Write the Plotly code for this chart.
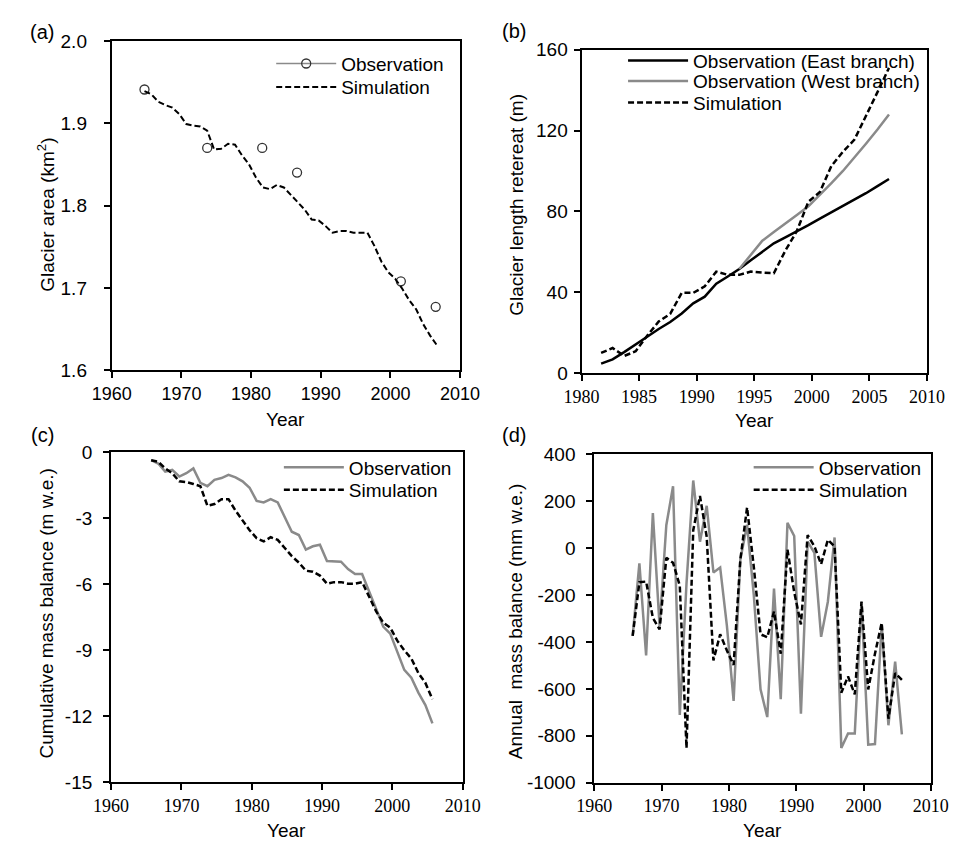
import plotly.graph_objects as go

# ---------------- data ----------------
# (a) glacier area
obs_a_year = [1964.7, 1973.7, 1981.6, 1986.6, 2001.5, 2006.5]
obs_a_area = [1.941, 1.870, 1.870, 1.840, 1.708, 1.677]
sim_a_area = [1.939, 1.935, 1.926, 1.922, 1.919, 1.911, 1.899, 1.897, 1.896, 1.891,
              1.868, 1.869, 1.875, 1.874, 1.861, 1.850, 1.834, 1.822, 1.820, 1.825,
              1.822, 1.813, 1.803, 1.795, 1.783, 1.782, 1.775, 1.767, 1.769, 1.769,
              1.767, 1.767, 1.767, 1.751, 1.732, 1.719, 1.711, 1.699, 1.685, 1.674,
              1.656, 1.642, 1.630]
sim_a_year = [1964.7 + i for i in range(len(sim_a_area))]

# (b) glacier length retreat
b_year = [1981.7 + i for i in range(26)]
obs_b_east = [4.7, 6.8, 10.4, 14.0, 18.0, 21.8, 25.3, 29.5, 34.5, 37.8,
              44.2, 47.8, 51.5, 55.8, 60.2, 64.2, 67.2, 70.1, 73.2, 76.4,
              79.5, 82.6, 85.5, 89.0, 92.5, 96.0]
obs_b_west_year = [1993.7 + i for i in range(14)]
obs_b_west = [51.5, 58.5, 65.5, 69.8, 73.8, 78.2, 82.5, 88.0, 94.0, 100.0,
              106.5, 113.5, 120.5, 127.9]
sim_b = [10.0, 12.4, 8.5, 10.8, 18.5, 25.5, 29.3, 39.7, 39.7, 42.9,
         50.2, 48.6, 48.6, 50.2, 49.7, 49.4, 60.6, 70.3, 84.8, 89.6,
         102.5, 109.5, 115.5, 127.0, 139.0, 151.0]

# (c) cumulative mass balance (m w.e.), (d) annual mass balance (mm w.e.)
mb_year = [1965.7 + i for i in range(41)]
obs_c = [-0.37, -0.52, -0.89, -0.81, -1.11, -0.96, -0.74, -1.40, -1.55, -1.26,
         -1.18, -1.03, -1.15, -1.33, -1.62, -2.22, -2.29, -2.14, -2.29, -2.95,
         -3.62, -3.77, -4.43, -4.28, -4.21, -4.95, -4.95, -4.98, -5.32, -5.54,
         -5.54, -6.33, -7.05, -7.93, -8.25, -9.12, -9.90, -10.25, -10.93, -11.50,
         -12.33]
sim_c = [-0.37, -0.44, -0.74, -0.96, -1.33, -1.36, -1.45, -1.55, -2.44, -2.36,
         -2.14, -2.14, -2.66, -3.10, -3.55, -3.91, -4.06, -3.87, -3.99, -4.36,
         -4.73, -5.02, -5.39, -5.44, -5.61, -5.98, -5.91, -5.91, -5.98, -5.98,
         -5.91, -6.57, -7.24, -7.75, -7.98, -8.57, -9.01, -9.38, -10.04, -10.49,
         -11.23]
obs_d = [-374, -64, -457, 150, -332, 98, 264, -711, -150, 289,
         28, 181, -103, -82, -330, -651, -48, 100, -200, -602,
         -720, -172, -644, 108, 52, -706, 28, -20, -378, -228,
         46, -852, -790, -790, -230, -838, -835, -325, -755, -484,
         -794]
sim_d = [-374, -145, -142, -297, -346, -41, -62, -159, -852, 77,
         223, 49, -478, -367, -436, -498, -48, 174, -80, -367,
         -380, -270, -450, -6, -187, -325, 56, 8, -68, 36,
         8, -616, -547, -623, -228, -602, -450, -318, -727, -533,
         -561]

# tick values
ticks_a = [1.6, 1.7, 1.8, 1.9, 2.0]
ticks_b = [0, 40, 80, 120, 160]
ticks_c = [-15, -12, -9, -6, -3, 0]
ticks_d = [-1000, -800, -600, -400, -200, 0, 200, 400]

# ---------------- style ----------------
W, H = 970, 850
SANS = "Liberation Sans, Arial, sans-serif"
SERIF = "Liberation Serif, Times New Roman, serif"
GRAY = "#8a8a8a"
DASH = "6px,3px"


def px(xp):
    return xp / W


def py(yp):
    return 1 - yp / H


def separated(vals):
    # isolate each observation so it draws as a lone marker (legend keeps line + marker)
    out = []
    for v in vals:
        out += [v, None]
    return out


fig = go.Figure()

# (a)
fig.add_trace(go.Scatter(x=separated(obs_a_year), y=separated(obs_a_area), mode="lines+markers",
                         name="Observation", connectgaps=False,
                         line=dict(color=GRAY, width=1.5),
                         marker=dict(symbol="circle-open", size=9, color="#333333", line=dict(width=1.3)),
                         xaxis="x", yaxis="y", legend="legend"))
fig.add_trace(go.Scatter(x=sim_a_year, y=sim_a_area, mode="lines", name="Simulation",
                         line=dict(color="black", width=2, dash=DASH),
                         xaxis="x", yaxis="y", legend="legend5"))
# (b)
fig.add_trace(go.Scatter(x=b_year, y=obs_b_east, mode="lines", name="Observation (East branch)",
                         line=dict(color="black", width=2.5), xaxis="x2", yaxis="y2", legend="legend2"))
fig.add_trace(go.Scatter(x=obs_b_west_year, y=obs_b_west, mode="lines", name="Observation (West branch)",
                         line=dict(color=GRAY, width=2.5), xaxis="x2", yaxis="y2", legend="legend6"))
fig.add_trace(go.Scatter(x=b_year, y=sim_b, mode="lines", name="Simulation",
                         line=dict(color="black", width=2.5, dash=DASH), xaxis="x2", yaxis="y2", legend="legend7"))
# (c)
fig.add_trace(go.Scatter(x=mb_year, y=obs_c, mode="lines", name="Observation",
                         line=dict(color=GRAY, width=2.5), xaxis="x3", yaxis="y3", legend="legend3"))
fig.add_trace(go.Scatter(x=mb_year, y=sim_c, mode="lines", name="Simulation",
                         line=dict(color="black", width=2.5, dash=DASH), xaxis="x3", yaxis="y3", legend="legend8"))
# (d)
fig.add_trace(go.Scatter(x=mb_year, y=obs_d, mode="lines", name="Observation",
                         line=dict(color=GRAY, width=2.5), xaxis="x4", yaxis="y4", legend="legend4"))
fig.add_trace(go.Scatter(x=mb_year, y=sim_d, mode="lines", name="Simulation",
                         line=dict(color="black", width=2.5, dash=DASH), xaxis="x4", yaxis="y4", legend="legend9"))


def xax(domain, rng, dtick, anchor, family):
    return dict(domain=domain, range=rng, dtick=dtick, tick0=rng[0], anchor=anchor,
                showline=True, linecolor="black", linewidth=2, mirror=True,
                ticks="outside", ticklen=6, tickwidth=2, tickcolor="black",
                showgrid=False, zeroline=False,
                tickfont=dict(family=family, size=18, color="black"))


def yax(domain, rng, vals, anchor, standoff, fmt="{:g}"):
    return dict(domain=domain, range=rng, anchor=anchor,
                tickmode="array", tickvals=vals, ticktext=[fmt.format(v) for v in vals],
                showline=True, linecolor="black", linewidth=2, mirror=True,
                ticks="outside", ticklen=6, tickwidth=2, tickcolor="black",
                showgrid=False, zeroline=False, ticklabelstandoff=standoff,
                tickfont=dict(family=SANS, size=19, color="black"))


dom_a = ([px(95.7), px(459)], [py(369.3), py(31.7)])
dom_b = ([px(585.7), px(946)], [py(372.3), py(40.7)])
dom_c = ([px(95), px(461.7)], [py(791.7), py(453.3)])
dom_d = ([px(599), px(950)], [py(792.3), py(455.7)])


def leg(text_x, row_y):
    # one legend row: text starts at text_x, row centred on row_y (pixels)
    return dict(x=px(text_x - 73), y=py(row_y), xanchor="left", yanchor="middle",
                bgcolor="rgba(0,0,0,0)", borderwidth=0, itemwidth=60,
                font=dict(family=SANS, size=19, color="black"))


fig.update_layout(
    width=W, height=H,
    margin=dict(l=0, r=0, t=0, b=0),
    paper_bgcolor="white", plot_bgcolor="white",
    showlegend=True,
    xaxis=xax(dom_a[0], [1960, 2010], 10, "y", SANS),
    yaxis=yax(dom_a[1], [1.6, 2.0], ticks_a, "x", 13, "{:.1f}"),
    xaxis2=xax(dom_b[0], [1980, 2010], 5, "y2", SERIF),
    yaxis2=yax(dom_b[1], [0, 160], ticks_b, "x2", 2),
    xaxis3=xax(dom_c[0], [1960, 2010], 10, "y3", SERIF),
    yaxis3=yax(dom_c[1], [-15, 0], ticks_c, "x3", 7),
    xaxis4=xax(dom_d[0], [1960, 2010], 10, "y4", SERIF),
    yaxis4=yax(dom_d[1], [-1000, 400], ticks_d, "x4", 7),
    legend=leg(335, 55),
    legend5=leg(335, 79),
    legend2=leg(702, 52),
    legend6=leg(702, 73),
    legend7=leg(702, 95),
    legend3=leg(343, 469),
    legend8=leg(343, 492),
    legend4=leg(833, 469),
    legend9=leg(833, 492),
)

ann = []


def label(text, xp, yp, size=19, angle=0):
    ann.append(dict(text=text, x=px(xp), y=py(yp), xref="paper", yref="paper",
                    showarrow=False, textangle=angle, xanchor="center", yanchor="middle",
                    font=dict(family=SANS, size=size, color="black")))


label("(a)", 23, 23, 20)
label("(b)", 515, 22, 20)
label("(c)", 23, 436, 20)
label("(d)", 515, 436, 20)
label("Year", 277, 420)
label("Year", 766, 421)
label("Year", 278, 841)
label("Year", 774, 841)
label("Glacier area (km<sup>2</sup>)", 27, 210, angle=-90)
label("Glacier length retereat (m)", 517, 200, angle=-90)
label("Cumulative mass balance (m w.e.)", 28, 619, angle=-90)
label("Annual  mass balance (mm w.e.)", 517, 627, angle=-90)

fig.update_layout(annotations=ann)

fig.write_html(
    "out.html",
    config={"displayModeBar": False},
    post_script=("document.body.style.margin='0';"
                 "document.body.style.padding='0';"
                 "document.body.style.overflow='hidden';"
                 "document.documentElement.style.overflow='hidden';"),
)
